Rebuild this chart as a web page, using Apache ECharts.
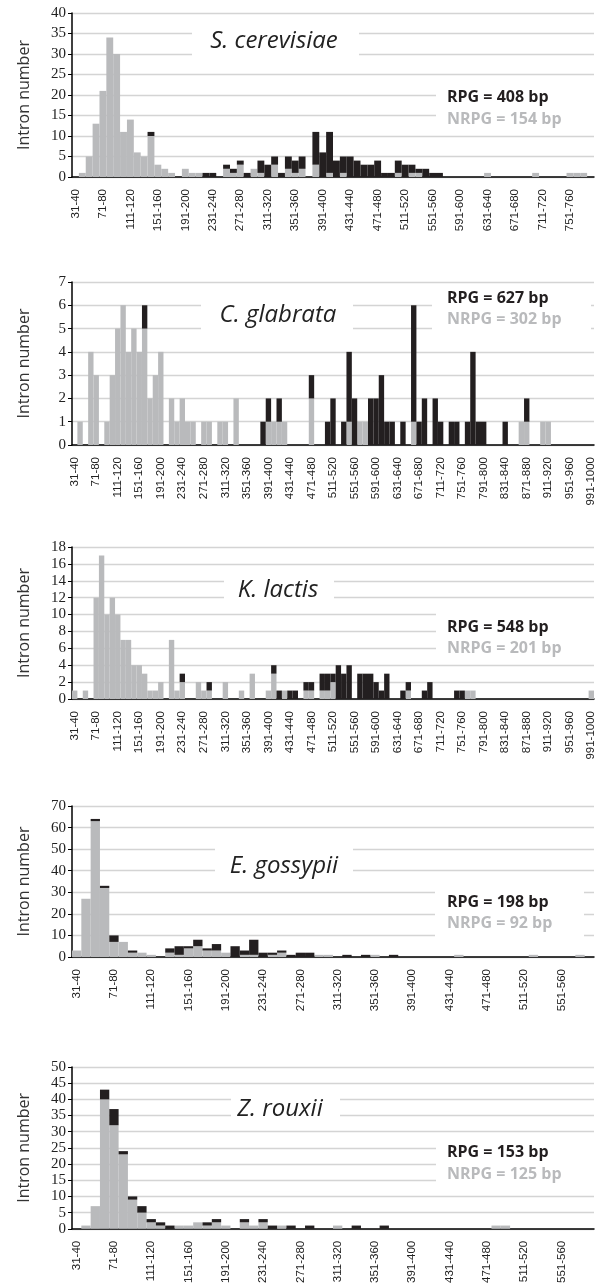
<!DOCTYPE html>
<html>
<head>
<meta charset="utf-8">
<script src="https://cdn.jsdelivr.net/npm/echarts@6/dist/echarts.min.js"></script>
<style>
  html, body { margin: 0; padding: 0; background: #fff; }
  #chart { width: 604px; height: 1286px; }
</style>
</head>
<body>
<div id="chart"></div>
<script>
// intron length bins "31-40", "41-50", ...
function binLabels(n) {
  var out = [];
  for (var i = 0; i < n; i++) out.push((31 + i * 10) + "-" + (40 + i * 10));
  return out;
}

var binsScer = binLabels(76);  // up to 781-790
var binsCgla = binLabels(97);  // up to 991-1000
var binsKlac = binLabels(97);
var binsEgos = binLabels(56);  // up to 581-590
var binsZrou = binLabels(56);

// grey = NRPG introns (bottom), black = RPG introns (stacked on top)
var scerNrpg = [0,1,5,13,21,34,30,11,14,6, 5,10,3,2,1,0,2,1,1,0, 0,0,2,1,3,0,2,1,0,3,
  0,2,1,2,0,3,0,1,0,1, 0,0,0,0,0,0,0,1,0,1, 1,0,0,0,0,0,0,0,0,0, 1,0,0,0,0,0,0,1,0,0, 0,0,1,1,1,0];
var scerRpg = [0,0,0,0,0,0,0,0,0,0, 0,1,0,0,0,0,0,0,0,1, 1,0,1,1,1,1,0,3,3,2,
  1,3,3,3,0,8,6,10,4,4, 5,4,3,3,4,1,1,3,3,2, 1,2,1,1,0,0,0,0,0,0, 0,0,0,0,0,0,0,0,0,0, 0,0,0,0,0,0];

var cglaNrpg = [0,1,0,4,3,0,1,3,5,6, 4,5,4,5,2,3,4,0,2,1, 2,1,1,0,1,1,0,1,1,0, 2,0,0,0,0,0,1,1,1,1,
  0,0,0,0,2,0,0,0,0,0, 0,1,0,1,1,0,0,0,0,0, 0,0,0,1,0,0,0,0,0,0, 0,0,0,0,0,0,0,0,0,0,
  0,0,0,1,1,0,0,1,1,0, 0,0,0,0,0,0,0];
var cglaRpg = [0,0,0,0,0,0,0,0,0,0, 0,0,0,1,0,0,0,0,0,0, 0,0,0,0,0,0,0,0,0,0, 0,0,0,0,0,1,1,0,1,0,
  0,0,0,0,1,0,0,1,2,0, 1,3,2,0,0,2,2,3,1,1, 0,1,0,5,1,2,0,2,1,0, 1,1,0,1,4,1,1,0,0,0,
  1,0,0,0,1,0,0,0,0,0, 0,0,0,0,0,0,0];

var klacNrpg = [1,0,1,0,12,17,10,12,10,7, 7,4,4,3,1,1,2,0,7,1, 2,0,0,2,1,1,0,0,2,0, 0,1,0,3,0,0,1,3,0,1,
  0,0,0,1,1,0,1,1,2,0, 0,0,0,0,0,0,0,0,0,0, 0,0,1,0,0,0,0,0,0,0, 0,0,0,1,1,0,0,0,0,0,
  0,0,0,0,0,0,0,0,0,0, 0,0,0,0,0,0,1];
var klacRpg = [0,0,0,0,0,0,0,0,0,0, 0,0,0,0,0,0,0,0,0,0, 1,0,0,0,0,1,0,0,0,0, 0,0,0,0,0,0,0,1,1,0,
  1,1,0,1,1,0,2,2,1,4, 3,4,0,3,3,3,2,1,3,0, 0,1,1,0,0,1,2,0,0,0, 0,1,1,0,0,0,0,0,0,0,
  0,0,0,0,0,0,0,0,0,0, 0,0,0,0,0,0,0];

var egosNrpg = [3,27,63,32,7,7,2,2,1,0, 2,1,4,5,3,3,2,0,1,1, 0,1,2,0,0,0,1,1,0,0,
  0,0,1,0,0,0,0,0,0,0, 0,1,0,0,0,0,0,0,0,1, 0,0,0,0,1,0];
var egosRpg = [0,0,1,1,3,0,1,0,0,0, 2,4,1,3,1,3,0,5,2,7, 2,1,1,1,2,2,0,0,0,1,
  0,1,0,0,1,0,0,0,0,0, 0,0,0,0,0,0,0,0,0,0, 0,0,0,0,0,0];

var zrouNrpg = [0,1,7,40,32,23,9,5,2,1, 0,1,1,2,1,2,1,0,2,1, 2,0,1,0,0,0,0,0,1,0,
  0,0,0,0,0,0,0,0,0,0, 0,0,0,0,0,1,1,0,0,0, 0,0,0,0,0,0];
var zrouRpg = [0,0,0,3,5,1,1,2,1,1, 1,0,0,0,1,1,0,0,1,0, 1,1,0,1,0,1,0,0,0,0,
  1,0,0,1,0,0,0,0,0,0, 0,0,0,0,0,0,0,0,0,0, 0,0,0,0,0,0];

var species = ["S. cerevisiae", "C. glabrata", "K. lactis", "E. gossypii", "Z. rouxii"];
var rpgMean = [408, 627, 548, 198, 153];
var nrpgMean = [154, 302, 201, 92, 125];
var yMax = [40, 7, 18, 70, 50];
var yStep = [5, 1, 2, 10, 5];

var cats = [binsScer, binsCgla, binsKlac, binsEgos, binsZrou];
var greyData = [scerNrpg, cglaNrpg, klacNrpg, egosNrpg, zrouNrpg];
var blackData = [scerRpg, cglaRpg, klacRpg, egosRpg, zrouRpg];

// layout of each panel
var gridTop = [13, 282, 547, 806, 1067];
var gridH = [164, 163, 152, 151, 163];
var titlePos = [[274, 41], [278, 315], [278, 590], [284, 866], [280, 1109]];
var titleBox = [[192, 24, 167, 40], [201, 296, 152, 42], [224, 572, 110, 36], [215, 840, 138, 40], [231, 1091, 109, 33]];
var meanY = [[97, 119], [298, 319], [627, 648], [902, 923], [1152, 1174]];
var meanBox = [[436, 84, 160, 42], [432, 290, 159, 45], [436, 606, 160, 52], [435, 884, 149, 60], [436, 1141, 160, 46]];

var GREY = "#b9babc";
var BLACK = "#231f20";

var grids = [], xAxes = [], yAxes = [], series = [], graphics = [];

for (let i = 0; i < 5; i++) {
  grids.push({ left: 72, width: 522, top: gridTop[i], height: gridH[i] });
  xAxes.push({
    type: "category",
    gridIndex: i,
    data: cats[i],
    axisLine: { lineStyle: { color: "#000", width: 1.5 } },
    axisTick: { interval: 0, length: 3, lineStyle: { color: "#000", width: 1.2 } },
    axisLabel: {
      interval: 3,
      rotate: 90,
      margin: 12,
      color: "#222",
      fontFamily: "Liberation Sans",
      fontSize: 11.5
    }
  });
  yAxes.push({
    type: "value",
    gridIndex: i,
    min: 0,
    max: yMax[i],
    interval: yStep[i],
    name: "Intron number",
    nameLocation: "middle",
    nameRotate: 90,
    nameGap: 40,
    nameTextStyle: { fontFamily: "Open Sans", fontSize: 16, color: "#333" },
    axisLine: { show: true, lineStyle: { color: "#000", width: 1.5 } },
    axisTick: { show: true, length: 4, lineStyle: { color: "#000" } },
    axisLabel: { margin: 6, color: "#222", fontFamily: "Liberation Serif", fontSize: 15 },
    splitLine: { lineStyle: { color: "#d4d4d4", width: 1.3 } }
  });
  series.push({
    name: "NRPG",
    type: "bar",
    xAxisIndex: i,
    yAxisIndex: i,
    stack: "p" + i,
    barCategoryGap: "0%",
    itemStyle: { color: GREY },
    data: greyData[i]
  });
  series.push({
    name: "RPG",
    type: "bar",
    xAxisIndex: i,
    yAxisIndex: i,
    stack: "p" + i,
    barCategoryGap: "0%",
    itemStyle: { color: BLACK },
    data: blackData[i]
  });

  // white patches behind the labels hide the gridlines, as in the original
  var tb = titleBox[i], mb = meanBox[i];
  graphics.push({ type: "rect", z: 5, shape: { x: tb[0], y: tb[1], width: tb[2], height: tb[3] }, style: { fill: "#fff" } });
  graphics.push({ type: "rect", z: 5, shape: { x: mb[0], y: mb[1], width: mb[2], height: mb[3] }, style: { fill: "#fff" } });
  graphics.push({
    type: "text", z: 6, x: titlePos[i][0], y: titlePos[i][1],
    style: { text: species[i], fill: "#222", font: 'italic 24px "Open Sans"', textAlign: "center", textVerticalAlign: "middle" }
  });
  graphics.push({
    type: "text", z: 6, x: 447, y: meanY[i][0],
    style: { text: "RPG = " + rpgMean[i] + " bp", fill: BLACK, font: 'bold 16px "Open Sans"', textAlign: "left", textVerticalAlign: "middle" }
  });
  graphics.push({
    type: "text", z: 6, x: 447, y: meanY[i][1],
    style: { text: "NRPG = " + nrpgMean[i] + " bp", fill: GREY, font: 'bold 16px "Open Sans"', textAlign: "left", textVerticalAlign: "middle" }
  });
}

var myChart = echarts.init(document.getElementById("chart"));
myChart.setOption({
  animation: false,
  backgroundColor: "#fff",
  grid: grids,
  xAxis: xAxes,
  yAxis: yAxes,
  series: series,
  graphic: graphics
});
</script>
</body>
</html>
